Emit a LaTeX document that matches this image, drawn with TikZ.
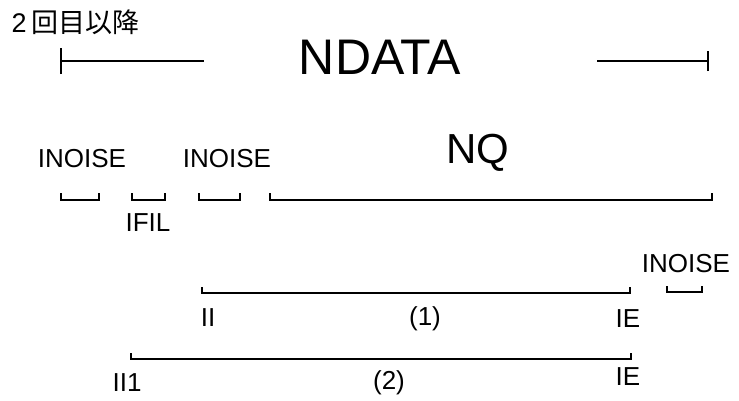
\documentclass[tikz,border=0pt]{standalone}
\usepackage{fontspec}
\setmainfont{Liberation Sans}
\newfontfamily\jpfont{Noto Sans CJK JP}
\begin{document}
\begin{tikzpicture}[x=1pt,y=-1pt,
  line width=1.3pt,
  lbl/.style={inner sep=0pt,font=\fontsize{26}{26}\selectfont},
  bigl/.style={inner sep=0pt,font=\fontsize{50}{50}\selectfont},
  midl/.style={inner sep=0pt,font=\fontsize{42}{42}\selectfont},
  brk/.style={line width=1.3pt}]
\useasboundingbox (0,0) rectangle (739,400);

% heading
\node[inner sep=0pt,anchor=west,font=\fontsize{27}{27}\selectfont] (head) at (11,22) {2\,\jpfont 回目以降};

% NDATA span
\node[bigl] (ndata) at (380,57) {NDATA};
\coordinate (nl) at (61,61);
\coordinate (nlend) at (204,61);
\coordinate (nrstart) at (597,61);
\coordinate (nr) at (708,61);
\draw[brk] ([yshift=-13pt]nl) -- ([yshift=13pt]nl);
\draw[brk] (nl) -- (nlend);
\draw[brk] (nrstart) -- (nr);
\draw[brk] ([yshift=-10pt]nr) -- ([yshift=10pt]nr);

% upper labels
\node[lbl] (in1) at (82,159) {INOISE};
\node[lbl] (in2) at (227,159) {INOISE};
\node[midl] (nq) at (478,153) {NQ};

% upper brackets
\coordinate (b1a) at (61,200);  \coordinate (b1b) at (99,200);
\coordinate (b2a) at (132,200); \coordinate (b2b) at (165,200);
\coordinate (b3a) at (199,200); \coordinate (b3b) at (240,200);
\coordinate (b4a) at (270,200); \coordinate (b4b) at (712,200);
\foreach \a/\b in {b1a/b1b,b2a/b2b,b3a/b3b,b4a/b4b}
  \draw[brk] ([yshift=7pt]\a) -- (\a) -- (\b) -- ([yshift=7pt]\b);
\node[lbl] (ifil) at (148,223) {IFIL};

% right noise block
\node[lbl] (in3) at (686,264) {INOISE};
\coordinate (b5a) at (667,292); \coordinate (b5b) at (702,292);
\draw[brk] ([yshift=6pt]b5a) -- (b5a) -- (b5b) -- ([yshift=6pt]b5b);

% range (1)
\coordinate (r1a) at (202,293); \coordinate (r1b) at (630,293);
\draw[brk] ([yshift=6pt]r1a) -- (r1a) -- (r1b) -- ([yshift=6pt]r1b);
\node[lbl] (ii) at (208,318) {II};
\node[lbl] (one) at (425,319) {(1)};
\node[lbl] (ie1) at (628,319) {IE};

% range (2)
\coordinate (r2a) at (131,359); \coordinate (r2b) at (631,359);
\draw[brk] ([yshift=6pt]r2a) -- (r2a) -- (r2b) -- ([yshift=6pt]r2b);
\node[lbl] (ii1) at (127,383) {II1};
\node[lbl] (two) at (389,383) {(2)};
\node[lbl] (ie2) at (628,377) {IE};
\end{tikzpicture}
\end{document}
